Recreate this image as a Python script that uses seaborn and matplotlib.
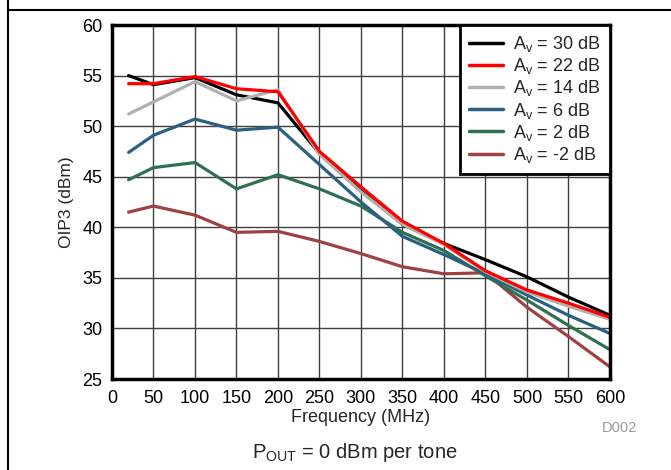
import matplotlib
matplotlib.use("Agg")
import matplotlib.pyplot as plt
from matplotlib.lines import Line2D
import seaborn as sns
import pandas as pd

# Frequency sweep (MHz)
freq = [20, 50, 100, 150, 200, 250, 300, 350, 400, 450, 500, 550, 600]

# OIP3 (dBm) for each voltage gain setting
oip3_30db = [55.0, 54.1, 54.8, 53.1, 52.3, 47.3, 43.6, 40.3, 38.4, 36.8, 35.1, 33.1, 31.3]
oip3_22db = [54.2, 54.2, 54.9, 53.7, 53.4, 47.5, 44.0, 40.6, 38.4, 35.7, 33.8, 32.5, 31.1]
oip3_14db = [51.2, 52.4, 54.4, 52.5, 53.6, 47.2, 43.5, 40.3, 38.3, 35.6, 33.6, 32.2, 30.9]
oip3_6db = [47.4, 49.1, 50.7, 49.6, 49.9, 46.2, 42.5, 39.1, 37.3, 35.4, 33.3, 31.3, 29.5]
oip3_2db = [44.7, 45.9, 46.4, 43.8, 45.2, 43.8, 42.1, 39.5, 37.7, 35.2, 32.8, 30.3, 27.9]
oip3_m2db = [41.5, 42.1, 41.2, 39.5, 39.6, 38.6, 37.4, 36.1, 35.4, 35.5, 32.1, 29.2, 26.2]

labels = ["A$_{\\mathrm{v}}$ = 30 dB", "A$_{\\mathrm{v}}$ = 22 dB", "A$_{\\mathrm{v}}$ = 14 dB",
          "A$_{\\mathrm{v}}$ = 6 dB", "A$_{\\mathrm{v}}$ = 2 dB", "A$_{\\mathrm{v}}$ = -2 dB"]
series = [oip3_30db, oip3_22db, oip3_14db, oip3_6db, oip3_2db, oip3_m2db]
colors = ["#000000", "#FF0000", "#B0B0B0", "#2A6080", "#2E7050", "#A04040"]
x_ticks = list(range(0, 601, 50))
y_ticks = list(range(25, 61, 5))

rows = []
for lab, vals in zip(labels, series):
    for f, v in zip(freq, vals):
        rows.append({"Frequency": f, "OIP3": v, "Gain": lab})
df = pd.DataFrame(rows)

sns.set_theme(style="white")
plt.rcParams["font.family"] = ["Liberation Sans", "DejaVu Sans"]
plt.rcParams["mathtext.fontset"] = "custom"
plt.rcParams["mathtext.rm"] = "Liberation Sans"
plt.rcParams["mathtext.it"] = "Liberation Sans:italic"

fig = plt.figure(figsize=(6.71, 4.70), dpi=100)
ax = fig.add_axes([0.1669, 0.1936, 0.909 - 0.1669, 0.9468 - 0.1936])

# draw back-to-front so the high-gain traces sit on top
order = [5, 4, 3, 0, 2, 1]
for i in order:
    sns.lineplot(data=df[df["Gain"] == labels[i]], x="Frequency", y="OIP3",
                 color=colors[i], linewidth=2.3, ax=ax, label=labels[i], zorder=3 + order.index(i))

ax.set_xlim(0, 600)
ax.set_ylim(25, 60)
ax.set_xticks(x_ticks)
ax.set_yticks(y_ticks)
ax.tick_params(axis="both", length=0, labelsize=13, colors="black")
ax.tick_params(axis="x", pad=8)
ax.tick_params(axis="y", pad=7)
ax.grid(True, color="#404040", linewidth=1.0)
for s in ax.spines.values():
    s.set_color("black")
    s.set_linewidth(2.5)
    s.set_zorder(20)

ax.set_xlabel("Frequency (MHz)", fontsize=13, labelpad=1)
ax.set_ylabel("OIP3 (dBm)", fontsize=12.5, labelpad=6)

handles = [Line2D([0], [0], color=c, linewidth=2.5) for c in colors]
leg = ax.legend(handles, labels, loc="upper right", bbox_to_anchor=(1.0, 1.0),
                fontsize=13, frameon=True, fancybox=False, borderaxespad=0,
                handlelength=1.9, labelspacing=0.12, borderpad=0.5, handletextpad=0.55)
leg.get_frame().set_edgecolor("black")
leg.get_frame().set_linewidth(2.0)
leg.get_frame().set_alpha(1)
leg.set_zorder(30)

fig.text(619 / 671, 1 - 428 / 470, "D002", fontsize=10.5, color="#999999", ha="center", va="center")
fig.text(355 / 671, 1 - 452 / 470, "P$_{\\mathrm{OUT}}$ = 0 dBm per tone", fontsize=14.5,
         ha="center", va="center")

# page border lines
fig.add_artist(Line2D([8 / 671, 8 / 671], [0, 1], color="black", linewidth=1.5,
                      transform=fig.transFigure))
fig.add_artist(Line2D([8 / 671, 1], [1 - 9.5 / 470, 1 - 9.5 / 470], color="black", linewidth=1.5,
                      transform=fig.transFigure))

fig.savefig("out.png", dpi=100, facecolor="white")
